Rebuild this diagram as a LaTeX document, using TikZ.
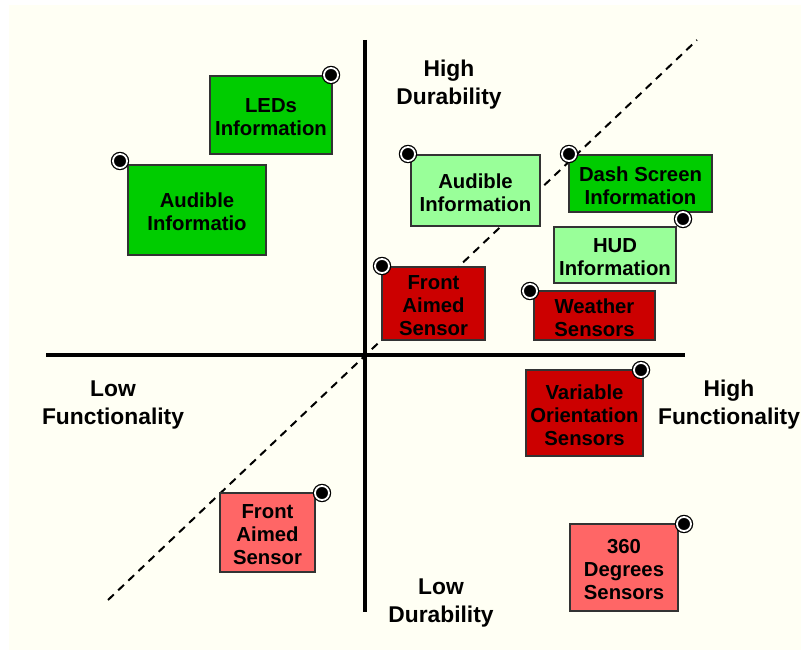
\documentclass[tikz,border=0pt]{standalone}
\usepackage{fontspec}
\setmainfont{Liberation Sans}
\definecolor{cream}{HTML}{FFFFF4}
\definecolor{hgreen}{HTML}{00CC00}
\definecolor{lgreen}{HTML}{99FF99}
\definecolor{hred}{HTML}{CC0000}
\definecolor{lred}{HTML}{FF6666}
\definecolor{edge}{HTML}{333333}
\tikzset{
  card/.style={draw=edge, line width=1.2pt, rectangle, inner sep=0pt, align=center,
    font=\fontsize{20.3}{23}\selectfont\bfseries},
  cardtext/.style={yshift=-2pt},
  axislabel/.style={align=center, inner sep=0pt, yshift=-2pt,
    font=\fontsize{22.8}{28}\selectfont\bfseries},
  pin/.style={circle, fill=black, draw=black, double=white, double distance=1.8pt,
    line width=1.3pt, minimum size=14pt, inner sep=0pt},
  axisline/.style={line width=4.5pt},
  trend/.style={line width=2pt, dash pattern=on 8pt off 6pt}
}
\begin{document}
\begin{tikzpicture}[x=1pt,y=-1pt]
  \useasboundingbox (0,0) rectangle (801,650);
  \fill[white] (0,0) rectangle (801,650);
  \fill[cream] (9,5) rectangle (801,650);

  % diagonal trend line
  \coordinate (tl) at (108,600);
  \coordinate (tr) at (697,40);
  \draw[trend] (tl) -- (tr);

  % axes
  \coordinate (vtop) at (365,40);
  \coordinate (vbot) at (365,612);
  \coordinate (hleft) at (46,355);
  \coordinate (hright) at (685,355);
  \draw[axisline] (vtop) -- (vbot);
  \draw[axisline] (hleft) -- (hright);

  % axis labels
  \node[axislabel] (hidur) at (449,83) {High\\Durability};
  \node[axislabel] (lodur) at (441,601) {Low\\Durability};
  \node[axislabel] (lofun) at (113,403) {Low\\Functionality};
  \node[axislabel] (hifun) at (729,403) {High\\Functionality};

  % cards: box first, then its centred text
  \foreach \nm/\fc/\w/\h/\cx/\cy/\txt in {
      leds/hgreen/122/78/271/115/{LEDs\\Information},
      audl/hgreen/138/90/197/210/{Audible\\Informatio},
      audm/lgreen/129/71/475.5/190.5/{Audible\\Information},
      dash/hgreen/143/57/640.5/183.5/{Dash Screen\\Information},
      hud/lgreen/122/56/615/255/{HUD\\Information},
      weather/hred/121/49/594.5/315.5/{Weather\\Sensors},
      frontm/hred/103/73/433.5/303.5/{Front\\Aimed\\Sensor},
      varor/hred/117/86/584.5/413/{Variable\\Orientation\\Sensors},
      frontl/lred/95/79/267.5/532.5/{Front\\Aimed\\Sensor},
      deg/lred/108/87/624/567.5/{360\\Degrees\\Sensors}} {
    \node[card, fill=\fc, minimum width=\w pt, minimum height=\h pt] (\nm) at (\cx,\cy) {};
    \node[card, draw=none, cardtext] (\nm-text) at (\nm.center) {\txt};
  }

  % corner pins
  \node[pin] (leds-pin) at (331,75) {};
  \node[pin] (audl-pin) at (120,161) {};
  \node[pin] (audm-pin) at (408,154) {};
  \node[pin] (dash-pin) at (569,154) {};
  \node[pin] (hud-pin) at (683,219) {};
  \node[pin] (weather-pin) at (530,291) {};
  \node[pin] (frontm-pin) at (382,266) {};
  \node[pin] (varor-pin) at (641,370) {};
  \node[pin] (frontl-pin) at (322,493) {};
  \node[pin] (deg-pin) at (684,524) {};
\end{tikzpicture}
\end{document}
